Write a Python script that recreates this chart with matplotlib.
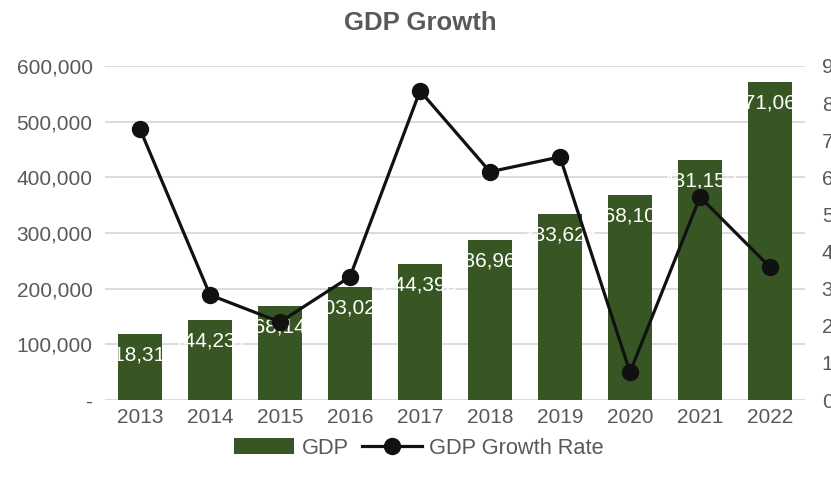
import matplotlib.pyplot as plt
import numpy as np

years = ['2013', '2014', '2015', '2016', '2017', '2018', '2019', '2020', '2021', '2022']
gdp = [118314, 144231, 168145, 203021, 244395, 286962, 333625, 368104, 431153, 571064]
growth = [7.30, 2.83, 2.10, 3.32, 8.33, 6.15, 6.55, 0.75, 5.47, 3.58]

left_ticks = [0, 100000, 200000, 300000, 400000, 500000, 600000]
left_labels = ['-', '100,000', '200,000', '300,000', '400,000', '500,000', '600,000']
right_ticks = list(range(0, 10))
right_labels = ['%d%%' % t for t in right_ticks]

plt.rcParams['font.family'] = ['Liberation Sans', 'DejaVu Sans']
txt = '#595959'
bar_c = '#375623'
grid_c = '#d9d9d9'

fig = plt.figure(figsize=(8.31, 4.87), dpi=100)
ax = fig.add_axes([105 / 831, 87 / 487, 700 / 831, 334 / 487])
x = np.arange(len(years))

ax.bar(x, gdp, width=0.63, color=bar_c, label='GDP', zorder=2)
for xi, v in zip(x, gdp):
    ax.annotate(f'{v:,}', (xi, v), xytext=(0, -15), textcoords='offset points',
                ha='center', va='center', color='white', fontsize=15, zorder=3)

ax.set_ylim(0, 600000)
ax.set_xlim(-0.5, len(years) - 0.5)
ax.set_yticks(left_ticks)
ax.set_yticklabels(left_labels)
ax.set_xticks(x)
ax.set_xticklabels(years)
ax.yaxis.grid(True, color=grid_c, linewidth=1.3, zorder=0)
ax.set_axisbelow(True)
for s in ax.spines.values():
    s.set_visible(False)
ax.tick_params(axis='y', length=0, pad=9, labelsize=15, labelcolor=txt)
ax.tick_params(axis='x', length=0, pad=6, labelsize=15, labelcolor=txt)

ax2 = ax.twinx()
ax2.plot(x, growth, color='#111111', linewidth=2.3, marker='o', markersize=11.5,
         label='GDP Growth Rate', zorder=4)
ax2.set_ylim(0, 9)
ax2.set_yticks(right_ticks)
ax2.set_yticklabels(right_labels)
for s in ax2.spines.values():
    s.set_visible(False)
ax2.tick_params(axis='y', length=0, pad=12, labelsize=15, labelcolor=txt)

fig.suptitle('GDP Growth', x=0.506, y=0.978, fontsize=18.5, fontweight='bold', color=txt)

h1, l1 = ax.get_legend_handles_labels()
h2, l2 = ax2.get_legend_handles_labels()
fig.legend(h1 + h2, l1 + l2, loc='center', bbox_to_anchor=(0.504, 0.08), ncol=2,
           frameon=False, fontsize=15.7, labelcolor=txt, handlelength=2.75,
           handletextpad=0.35, columnspacing=0.6)

fig.savefig('out.png', dpi=100)
